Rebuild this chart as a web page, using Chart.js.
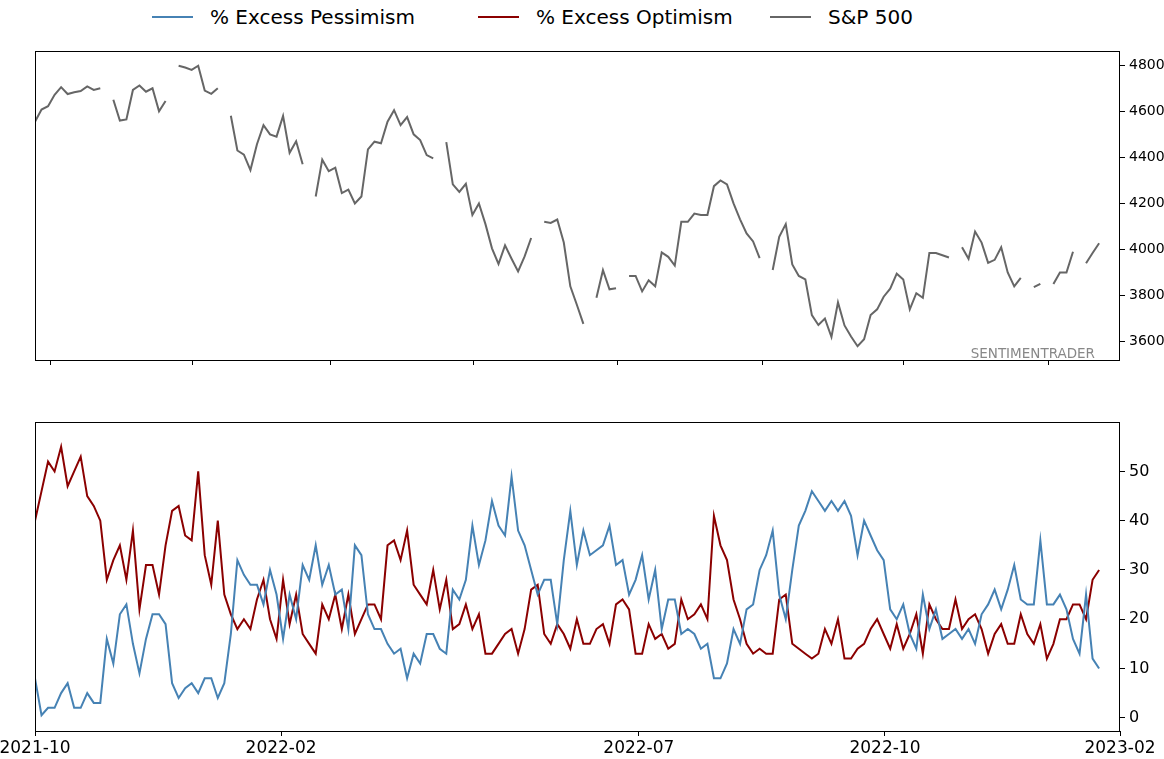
<!DOCTYPE html>
<html>
<head>
<meta charset="utf-8">
<script src="https://cdn.jsdelivr.net/npm/chart.js@4.4.1/dist/chart.umd.min.js"></script>
<style>
  html, body { margin: 0; padding: 0; background: #fff; }
  body { width: 1164px; height: 759px; position: relative; overflow: hidden; font-family: "DejaVu Sans", sans-serif; }
  canvas { position: absolute; left: 0; }
  #top { top: 0; }
  #bottom { top: 380px; }
  .item { position: absolute; top: 5px; height: 24px; display: flex; align-items: center; font-size: 20px; color: #000; white-space: nowrap; }
  .swatch { width: 41px; height: 0; border-top: 2px solid; margin-right: 17px; }
</style>
</head>
<body>
<div class="item" style="left:152px"><span class="swatch" style="border-color:#4682b4"></span>% Excess Pessimism</div>
<div class="item" style="left:478px"><span class="swatch" style="border-color:#8b0000"></span>% Excess Optimism</div>
<div class="item" style="left:770px"><span class="swatch" style="border-color:#666666"></span>S&amp;P 500</div>
<canvas id="top" width="1164" height="380"></canvas>
<canvas id="bottom" width="1164" height="379"></canvas>
<script>
// Une valeur toutes les 2 séances ; null = jour férié (pas de cotation S&P)
const STEP = 2;

const spx = [
  4555, 4608, 4622, 4672, 4705, 4675, 4683, 4688, 4708, 4693, 4700,
  null, 4650, 4560, 4565, 4693, 4712, 4685, 4700, 4600, 4645,
  null, 4798, 4790, 4780, 4798, 4690, 4676, 4700,
  null, 4581, 4430, 4412, 4345, 4457, 4540, 4500, 4490, 4580, 4420, 4470, 4370,
  null, 4230, 4390, 4340, 4355, 4245, 4260, 4200, 4230, 4435, 4468, 4461, 4555, 4605, 4540, 4575, 4500, 4475, 4410, 4396,
  null, 4466, 4283, 4250, 4285, 4150, 4200, 4110, 4005, 3937, 4018, 3960, 3905, 3970, 4050,
  null, 4120, 4115, 4130, 4030, 3840, 3760, 3677,
  null, 3790, 3910, 3827, 3832,
  null, 3885, 3885, 3818, 3866, 3840, 3987, 3968, 3930, 4120, 4120, 4156, 4150, 4150, 4275, 4300, 4283, 4200, 4131, 4070, 4035, 3962,
  null, 3911, 4055, 4110, 3935, 3885, 3870, 3715, 3672, 3700, 3620, 3770, 3670, 3622, 3580, 3610, 3715, 3740, 3795, 3830, 3895, 3870, 3740, 3810, 3790, 3985, 3985, 3975, 3965,
  null, 4010, 3960, 4078, 4030, 3942, 3955, 4010, 3900, 3840, 3877,
  null, 3836, 3851,
  null, 3850, 3900, 3900, 3990,
  null, 3940, 3985, 4027,
];

const pessimism = [
  8, 0.5, 2, 2, 5, 7, 2, 2, 5, 3, 3,
  16, 11, 21, 23, 15, 9, 16, 21, 21, 19,
  7, 4, 6, 7, 5, 8, 8, 4, 7, 17,
  32, 29, 27, 27, 23, 30, 25, 16, 25, 20,
  31, 28, 35, 27, 31, 25, 26, 18, 35, 33,
  21, 18, 18, 15, 13, 14, 8, 13, 11, 17,
  17, 14, 13, 26, 24, 28, 39, 31, 36, 44,
  39, 37, 49, 38, 35, 30, 25, 28, 28, 19,
  32, 42, 31, 38, 33, 34, 35, 39, 31, 32,
  25, 28, 33, 24, 30, 18, 24, 24, 17, 18,
  17, 14, 15, 8, 8, 11, 18, 15, 22, 23,
  30, 33, 38, 25, 20, 30, 39, 42, 46, 44,
  42, 44, 42, 44, 41, 33, 40, 37, 34, 32,
  22, 20, 23, 17, 14, 25, 18, 22, 16, 17,
  18, 16, 18, 15, 21, 23, 26, 22, 26, 31,
  24, 23, 23, 36, 23, 23, 25, 22, 16, 13,
  25, 12, 10,
];

const optimism = [
  40, 46, 52, 50, 55, 47, 50, 53, 45, 43, 40,
  28, 32, 35, 28, 38, 22, 31, 31, 25, 35,
  42, 43, 37, 36, 50, 33, 27, 40, 25, 21,
  18, 20, 18, 24, 28, 20, 16, 28, 19, 25,
  17, 15, 13, 23, 20, 25, 18, 25, 17, 20,
  23, 23, 20, 35, 36, 32, 38, 27, 25, 23,
  30, 22, 28, 18, 19, 23, 18, 21, 13, 13,
  15, 17, 18, 13, 18, 26, 27, 17, 15, 19,
  17, 14, 20, 15, 15, 18, 19, 15, 23, 24,
  22, 13, 13, 19, 16, 17, 14, 15, 24, 20,
  21, 23, 20, 41, 35, 32, 24, 20, 15, 13,
  14, 13, 13, 24, 25, 15, 14, 13, 12, 13,
  18, 15, 20, 12, 12, 14, 15, 18, 20, 17,
  14, 19, 14, 17, 21, 13, 23, 20, 18, 18,
  24, 18, 20, 21, 18, 13, 17, 19, 15, 15,
  21, 17, 15, 19, 12, 15, 20, 20, 23, 23,
  20, 28, 30,
];

// Graduations (en séances depuis le début de la série)
const topTickDays = [4.6, 48.1, 90.4, 134.2, 178.4, 222.8, 266.2, 310.4];
const bottomTickDays = [0, 75.4, 185, 260.4, 332.4];
const bottomTickLabels = ['2021-10', '2022-02', '2022-07', '2022-10', '2023-02'];
const spxTicks = [3600, 3800, 4000, 4200, 4400, 4600, 4800];
const pctTicks = [0, 10, 20, 30, 40, 50];
const X_MAX = 332.4;

Chart.defaults.font.family = '"DejaVu Sans", sans-serif';
Chart.defaults.color = '#000';

const pts = (vals) => vals.map((v, i) => ({ x: i * STEP, y: v }));
const setTicks = (list) => (scale) => { scale.ticks = list.map((value) => ({ value })); };
// Taille d'axe fixe, sans marge ajoutée pour les libellés en bout d'axe
const fixHeight = (h) => (s) => { s.height = h; s.paddingLeft = 0; s.paddingRight = 0; };
const fixWidth = (w) => (s) => { s.width = w; s.paddingTop = 0; s.paddingBottom = 0; };

// Cadre noir autour de la zone de tracé (comme les "spines" matplotlib)
const frame = {
  id: 'frame',
  afterDraw(chart) {
    const { ctx, chartArea: a } = chart;
    ctx.save();
    ctx.strokeStyle = '#000';
    ctx.lineWidth = 1;
    ctx.strokeRect(Math.round(a.left) + 0.5, Math.round(a.top) + 0.5,
      Math.round(a.right - a.left) - 1, Math.round(a.bottom - a.top));
    ctx.restore();
  },
};

const watermark = {
  id: 'watermark',
  afterDraw(chart) {
    const { ctx, chartArea: a } = chart;
    ctx.save();
    ctx.fillStyle = '#888888';
    ctx.font = '13.5px "DejaVu Sans", sans-serif';
    ctx.textAlign = 'right';
    ctx.textBaseline = 'alphabetic';
    ctx.fillText('SENTIMENTRADER', a.right - 25, a.bottom - 2);
    ctx.restore();
  },
};

const tickGrid = { display: true, drawOnChartArea: false, drawTicks: true, tickLength: 5, tickColor: '#000', tickWidth: 1 };

new Chart(document.getElementById('top'), {
  type: 'line',
  data: {
    datasets: [{
      label: 'S&P 500',
      data: pts(spx),
      borderColor: '#666666',
      borderWidth: 2,
      pointRadius: 0,
      tension: 0,
      spanGaps: false,
    }],
  },
  options: {
    responsive: false,
    animation: false,
    events: [],
    layout: { padding: { left: 35, top: 51, right: 0, bottom: 0 } },
    plugins: { legend: { display: false }, tooltip: { enabled: false } },
    scales: {
      x: {
        type: 'linear', min: 0, max: X_MAX,
        afterBuildTicks: setTicks(topTickDays),
        afterFit: fixHeight(20),
        grid: tickGrid, border: { display: false },
        ticks: { display: false },
      },
      y: {
        position: 'right', min: 3520, max: 4862,
        afterBuildTicks: setTicks(spxTicks),
        afterFit: fixWidth(44),
        grid: tickGrid, border: { display: false },
        ticks: { font: { size: 14 }, padding: 4, callback: (v) => String(v) },
      },
    },
  },
  plugins: [frame, watermark],
});

new Chart(document.getElementById('bottom'), {
  type: 'line',
  data: {
    datasets: [
      { label: '% Excess Pessimism', data: pts(pessimism), borderColor: '#4682b4', borderWidth: 2, pointRadius: 0, tension: 0 },
      { label: '% Excess Optimism', data: pts(optimism), borderColor: '#8b0000', borderWidth: 2, pointRadius: 0, tension: 0 },
    ],
  },
  options: {
    responsive: false,
    animation: false,
    events: [],
    layout: { padding: { left: 35, top: 42, right: 0, bottom: 0 } },
    plugins: { legend: { display: false }, tooltip: { enabled: false } },
    scales: {
      x: {
        type: 'linear', min: 0, max: X_MAX,
        afterBuildTicks: setTicks(bottomTickDays),
        afterFit: fixHeight(28),
        grid: tickGrid, border: { display: false },
        ticks: {
          font: { size: 17 }, padding: 2, maxRotation: 0, autoSkip: false,
          callback: (v) => bottomTickLabels[bottomTickDays.indexOf(v)] ?? '',
        },
      },
      y: {
        position: 'right', min: -2.7, max: 60.04,
        afterBuildTicks: setTicks(pctTicks),
        afterFit: fixWidth(44),
        grid: tickGrid, border: { display: false },
        ticks: { font: { size: 16 }, padding: 4 },
      },
    },
  },
  plugins: [frame],
});
</script>
</body>
</html>
